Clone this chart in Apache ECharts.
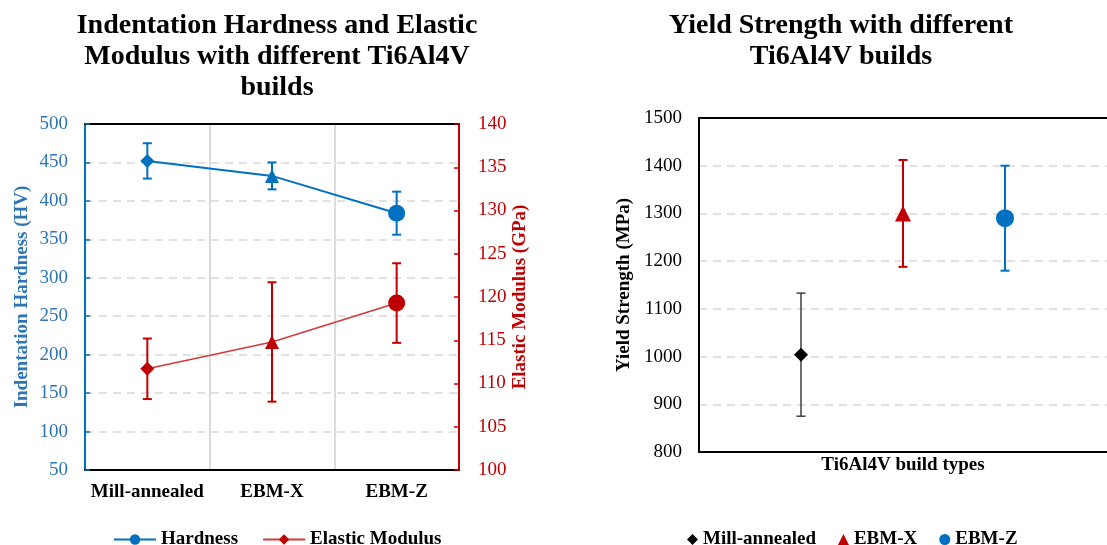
<!DOCTYPE html>
<html>
<head>
<meta charset="utf-8">
<script src="https://cdn.jsdelivr.net/npm/echarts@6/dist/echarts.min.js"></script>
<style>
  html, body { margin: 0; padding: 0; background: #fff; }
  #chart { width: 1107px; height: 545px; }
</style>
</head>
<body>
<div id="chart"></div>
<script>
// Ti6Al4V builds
const categories = ['Mill-annealed', 'EBM-X', 'EBM-Z'];

// Indentation hardness (HV) with standard deviation
const hardness = [452, 432.5, 384];
const hardnessErr = [23, 17.5, 28];

// Elastic modulus (GPa) with standard deviation
const modulus = [111.7, 114.8, 119.3];
const modulusErr = [3.5, 6.9, 4.6];

// Yield strength (MPa) with standard deviation, one point per build
const buildPositions = [1, 2, 3];
const yieldStrength = [1004, 1300, 1290];
const yieldErr = [129, 112, 110];

const FONT = "'Liberation Serif', 'Times New Roman', serif";
const BLUE = '#0070C0';
const BLUE_TEXT = '#2E75B6';
const RED = '#C00000';
const GRID_DASH = { color: '#d9d9d9', type: [8, 6], width: 1.5 };

const markerShapes = ['diamond', 'triangle', 'circle'];
const leftSizes = [14, 14, 17];
const rightSizes = [14, 16, 18];
const buildColors = ['#000000', RED, BLUE];
const buildErrColors = ['#404040', RED, BLUE];
const buildErrWidths = [1.5, 2, 2];

function errorBar(color, width) {
  return function (params, api) {
    const x = api.value(0);
    const top = api.coord([x, api.value(2)]);
    const bot = api.coord([x, api.value(1)]);
    const cap = 4.5;
    const style = { stroke: color, lineWidth: width };
    return {
      type: 'group',
      children: [
        { type: 'line', shape: { x1: top[0], y1: top[1], x2: bot[0], y2: bot[1] }, style },
        { type: 'line', shape: { x1: top[0] - cap, y1: top[1], x2: top[0] + cap, y2: top[1] }, style },
        { type: 'line', shape: { x1: bot[0] - cap, y1: bot[1], x2: bot[0] + cap, y2: bot[1] }, style }
      ]
    };
  };
}

const series = [];

// Left panel: error bars, then the two lines
series.push({
  name: 'Hardness error', type: 'custom', xAxisIndex: 0, yAxisIndex: 0, z: 2,
  encode: { x: 0, y: [1, 2] },
  renderItem: errorBar(BLUE, 2),
  data: hardness.map((v, i) => [i, v - hardnessErr[i], v + hardnessErr[i]])
});
series.push({
  name: 'Modulus error', type: 'custom', xAxisIndex: 0, yAxisIndex: 1, z: 2,
  encode: { x: 0, y: [1, 2] },
  renderItem: errorBar(RED, 2),
  data: modulus.map((v, i) => [i, v - modulusErr[i], v + modulusErr[i]])
});
series.push({
  name: 'Hardness', type: 'line', xAxisIndex: 0, yAxisIndex: 0, z: 3,
  symbol: 'circle', symbolSize: 12,
  itemStyle: { color: BLUE },
  lineStyle: { color: BLUE, width: 2 },
  data: hardness.map((v, i) => ({ value: v, symbol: markerShapes[i], symbolSize: leftSizes[i] }))
});
series.push({
  name: 'Elastic Modulus', type: 'line', xAxisIndex: 0, yAxisIndex: 1, z: 3,
  symbol: 'diamond', symbolSize: 12,
  itemStyle: { color: RED },
  lineStyle: { color: '#D23A3A', width: 1.5 },
  data: modulus.map((v, i) => ({ value: v, symbol: markerShapes[i], symbolSize: leftSizes[i] }))
});

// Right panel: one scatter point per build with its error bar
categories.forEach((name, i) => {
  series.push({
    name: name + ' error', type: 'custom', xAxisIndex: 2, yAxisIndex: 2, z: 2,
    encode: { x: 0, y: [1, 2] },
    renderItem: errorBar(buildErrColors[i], buildErrWidths[i]),
    data: [[buildPositions[i], yieldStrength[i] - yieldErr[i], yieldStrength[i] + yieldErr[i]]]
  });
  series.push({
    name: name, type: 'scatter', xAxisIndex: 2, yAxisIndex: 2, z: 3,
    symbol: markerShapes[i], symbolSize: rightSizes[i],
    itemStyle: { color: buildColors[i], opacity: 1 },
    data: [[buildPositions[i], yieldStrength[i]]]
  });
});

const boldText = { fontFamily: FONT, fontWeight: 'bold', fontSize: 19, color: '#000' };
const hidden = { show: false };
const titleText = { fontFamily: FONT, fontWeight: 'bold', fontSize: 28, lineHeight: 31, color: '#000' };

const option = {
  animation: false,
  backgroundColor: '#fff',
  title: [
    {
      text: 'Indentation Hardness and Elastic\nModulus with different Ti6Al4V\nbuilds',
      left: 272, top: 5, textAlign: 'center', textStyle: titleText
    },
    {
      text: 'Yield Strength with different\nTi6Al4V builds',
      left: 836, top: 5, textAlign: 'center', textStyle: titleText
    }
  ],
  legend: [
    {
      data: ['Hardness', 'Elastic Modulus'],
      left: 108, top: 525, itemWidth: 42, itemHeight: 13, itemGap: 24,
      textStyle: boldText
    },
    {
      data: categories,
      left: 682, top: 525, itemWidth: 11, itemHeight: 11, itemGap: 22,
      textStyle: boldText
    }
  ],
  grid: [
    { left: 85, right: 648, top: 124, bottom: 75 },
    { left: 699, right: -2, top: 118, bottom: 93 }
  ],
  xAxis: [
    {
      gridIndex: 0, type: 'category', data: categories, boundaryGap: true,
      axisLine: { lineStyle: { color: '#000', width: 2 } },
      axisTick: hidden,
      axisLabel: Object.assign({ margin: 13, interval: 0 }, boldText),
      splitLine: { show: true, interval: 0, lineStyle: { color: '#d0d0d0', width: 1.5 } }
    },
    {
      gridIndex: 0, type: 'category', data: categories, position: 'top',
      axisLine: { lineStyle: { color: '#000', width: 2 } },
      axisTick: hidden, axisLabel: hidden, splitLine: hidden
    },
    {
      gridIndex: 1, type: 'value', min: 0, max: 4,
      axisLine: { onZero: false, lineStyle: { color: '#000', width: 2 } },
      axisTick: hidden, axisLabel: hidden, splitLine: hidden,
      name: 'Ti6Al4V build types', nameLocation: 'middle', nameGap: 4,
      nameTextStyle: boldText
    },
    {
      gridIndex: 1, type: 'value', min: 0, max: 4, position: 'top',
      axisLine: { onZero: false, lineStyle: { color: '#000', width: 2 } },
      axisTick: hidden, axisLabel: hidden, splitLine: hidden
    }
  ],
  yAxis: [
    {
      gridIndex: 0, type: 'value', min: 50, max: 500, interval: 50, position: 'left',
      axisLine: { show: true, lineStyle: { color: BLUE, width: 2 } },
      axisTick: { show: true, inside: true, length: 5, lineStyle: { color: BLUE, width: 1.5 } },
      axisLabel: { fontFamily: FONT, fontSize: 19, color: BLUE_TEXT, margin: 17 },
      splitLine: { show: true, lineStyle: GRID_DASH },
      name: 'Indentation Hardness (HV)', nameLocation: 'middle', nameGap: 53, nameRotate: 90,
      nameTextStyle: { fontFamily: FONT, fontWeight: 'bold', fontSize: 19, color: BLUE_TEXT }
    },
    {
      gridIndex: 0, type: 'value', min: 100, max: 140, interval: 5, position: 'right',
      axisLine: { show: true, lineStyle: { color: RED, width: 2 } },
      axisTick: { show: true, inside: true, length: 5, lineStyle: { color: RED, width: 1.5 } },
      axisLabel: { fontFamily: FONT, fontSize: 19, color: RED, margin: 19 },
      splitLine: hidden,
      name: 'Elastic Modulus (GPa)', nameLocation: 'middle', nameGap: 47, nameRotate: 90,
      nameTextStyle: { fontFamily: FONT, fontWeight: 'bold', fontSize: 19, color: RED }
    },
    {
      gridIndex: 1, type: 'value', min: 800, max: 1500, interval: 100, position: 'left',
      axisLine: { show: true, lineStyle: { color: '#000', width: 2 } },
      axisTick: hidden,
      axisLabel: { fontFamily: FONT, fontSize: 19, color: '#000', margin: 17, formatter: (v) => String(v) },
      splitLine: { show: true, lineStyle: GRID_DASH },
      name: 'Yield Strength (MPa)', nameLocation: 'middle', nameGap: 65, nameRotate: 90,
      nameTextStyle: boldText
    }
  ],
  series: series
};

const chart = echarts.init(document.getElementById('chart'), null, { renderer: 'canvas' });
chart.setOption(option);
</script>
</body>
</html>
